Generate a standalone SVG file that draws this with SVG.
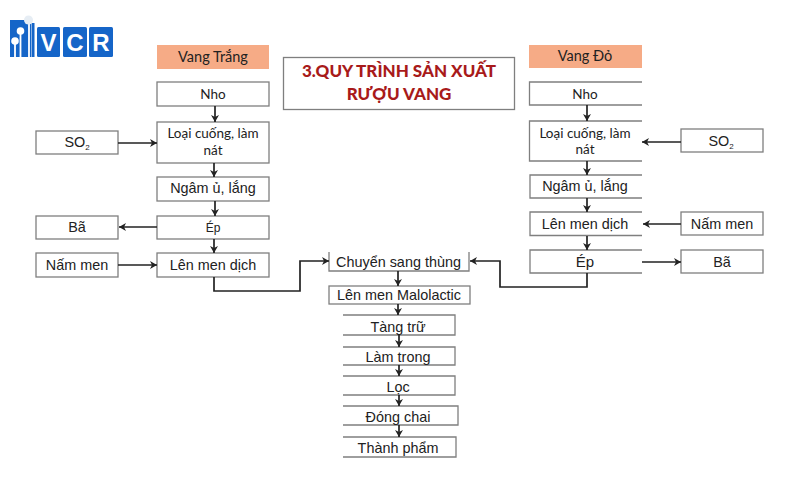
<svg xmlns="http://www.w3.org/2000/svg" width="800" height="500" viewBox="0 0 800 500">
<defs>
<marker id="a" markerUnits="userSpaceOnUse" markerWidth="9" markerHeight="10" refX="8" refY="5" orient="auto"><path d="M1 1 L8 5 L1 9 L3 5 Z" fill="#222"/></marker>
</defs>
<style>
.b{fill:#fff;stroke:#7f7f7f;stroke-width:1.3}
.o{fill:#f6ab86;stroke:none}
.l{fill:none;stroke:#7f7f7f;stroke-width:1.3}
.c{font-family:Lato,"Noto Sans",sans-serif;font-size:13.500px;fill:#222;text-anchor:middle}
.h{font-size:14.500px}
.r{font-family:"Liberation Sans",Arial,sans-serif;font-size:14.400px;fill:#222;text-anchor:middle}
.t{font-family:Lato,"Noto Sans",sans-serif;font-size:17px;font-weight:900;fill:#a81a1a;text-anchor:middle}
.k{fill:none;stroke:#222;stroke-width:1.7;marker-end:url(#a)}
.v{font-family:"Liberation Sans",Arial,sans-serif;font-size:24px;font-weight:700;fill:#fff;text-anchor:middle}
.m{fill:#1565c8}
</style>
<g id="logo">
<path class="m" d="M10 20H31V57H10z"/><rect class="m" x="31.500" y="23" width="3" height="34"/>
<path d="M15 57V41M20.500 57V32M29 57V21" fill="none" stroke="#fff" stroke-width="1.800"/>
<circle cx="15" cy="41" r="3.800" fill="#fff"/><circle cx="20.500" cy="31" r="3.800" fill="#fff"/><circle cx="28.500" cy="20" r="4.500" fill="#e6edf4"/>
<rect class="m" x="37" y="27" width="23" height="30" rx="1.500"/><rect class="m" x="63" y="27" width="24" height="30" rx="1.500"/><rect class="m" x="89" y="27" width="24" height="30" rx="1.500"/>
<text class="v" x="48.500" y="51">V</text><text class="v" x="75" y="51">C</text><text class="v" x="101" y="51">R</text>
</g>
<g id="title"><rect class="b" x="283.500" y="57.500" width="231" height="52"/><text class="t" x="399" y="77">3.QUY TRÌNH SẢN XUẤT</text><text class="t" x="399" y="100">RƯỢU VANG</text></g>
<g id="w0"><rect class="o" x="157" y="45" width="112" height="24"/><text class="c h" x="213" y="62">Vang Trắng</text></g>
<g id="w1"><rect class="b" x="157" y="82" width="112" height="24"/><text class="c" x="213" y="99">Nho</text></g>
<g id="w2"><rect class="b" x="157" y="122" width="112" height="41"/><text class="c" x="213" y="138">Loại cuống, làm</text><text class="c" x="213" y="155">nát</text></g>
<g id="w3"><rect class="b" x="157" y="177" width="112" height="24"/><text class="r" x="213" y="193">Ngâm ủ, lắng</text></g>
<g id="w4"><rect class="b" x="157" y="216" width="112" height="23"/><text class="r" x="213" y="232" style="font-size:12px">Ép</text></g>
<g id="w5"><rect class="b" x="157" y="253" width="112" height="24"/><text class="r" x="213" y="270">Lên men dịch</text></g>
<g id="ws"><rect class="b" x="36" y="131" width="82" height="23"/><text class="r" x="77" y="147">SO<tspan dy="3" font-size="8">2</tspan></text></g>
<g id="wb"><rect class="b" x="36" y="216" width="82" height="23"/><text class="r" x="77" y="232">Bã</text></g>
<g id="wn"><rect class="b" x="36" y="253" width="82" height="24"/><text class="r" x="77" y="270">Nấm men</text></g>
<g id="d0"><rect class="o" x="529" y="45" width="113" height="23"/><text class="c h" x="585" y="61">Vang Đỏ</text></g>
<g id="d1"><path class="l" d="M642 82H529.500V105H642"/><text class="c" x="585" y="99">Nho</text></g>
<g id="d2"><path class="l" d="M642 121H529.500V161H642"/><text class="c" x="585" y="138">Loại cuống, làm</text><text class="c" x="585" y="154">nát</text></g>
<g id="d3"><path class="l" d="M642 175H530V198H642"/><text class="r" x="585" y="191">Ngâm ủ, lắng</text></g>
<g id="d4"><path class="l" d="M642 212H530V235.500H642"/><text class="r" x="585" y="229">Lên men dịch</text></g>
<g id="d5"><path class="l" d="M642 250H530V273H642"/><text class="r" x="585" y="267" style="font-size:15px">Ép</text></g>
<g id="ds"><rect class="b" x="681" y="129" width="82" height="23"/><text class="r" x="721" y="146">SO<tspan dy="3" font-size="8">2</tspan></text></g>
<g id="dn"><rect class="b" x="681" y="212" width="82" height="23"/><text class="r" x="722" y="229">Nấm men</text></g>
<g id="db"><rect class="b" x="681" y="250" width="82" height="23"/><text class="r" x="722" y="267">Bã</text></g>
<g id="m1"><path class="l" d="M329 252V271H469V252"/><text class="r" x="398.500" y="267">Chuyển sang thùng</text></g>
<g id="m2"><rect class="b" x="329" y="286" width="141" height="18"/><text class="r" x="399" y="300">Lên men Malolactic</text></g>
<g id="m3"><path class="l" d="M343 315H455V335H343"/><text class="r" x="398" y="332">Tàng trữ</text></g>
<g id="m4"><path class="l" d="M343 347H455V365H343"/><text class="r" x="398" y="362">Làm trong</text></g>
<g id="m5"><path class="l" d="M343 376H455V395H343"/><text class="r" x="398" y="392">Lọc</text></g>
<g id="m6"><path class="l" d="M343 406H458V425H343"/><text class="r" x="398" y="422">Đóng chai</text></g>
<g id="m7"><path class="l" d="M343 437H456V457H343"/><text class="r" x="398" y="453">Thành phẩm</text></g>
<g id="connectors">
<path class="k" d="M215 106V122"/><path class="k" d="M214 163V177"/><path class="k" d="M215 201V216"/><path class="k" d="M214 239V253"/>
<path class="k" d="M118 143H157"/><path class="k" d="M157 227H119"/><path class="k" d="M118 265H157"/>
<path class="k" d="M214 277V291H300V261H329"/>
<path class="k" d="M587 105V121"/><path class="k" d="M587 161V175"/><path class="k" d="M587 198V212"/><path class="k" d="M587 236V250"/>
<path class="k" d="M681 142H642"/><path class="k" d="M681 224H643"/><path class="k" d="M642 262H681"/>
<path class="k" d="M587 273V287H500V261H470"/>
<path class="k" d="M398 271V286"/><path class="k" d="M398 304V315"/><path class="k" d="M399 335V347"/><path class="k" d="M399 365V376"/><path class="k" d="M399 395V406"/><path class="k" d="M399 425V437"/>
</g>
</svg>
